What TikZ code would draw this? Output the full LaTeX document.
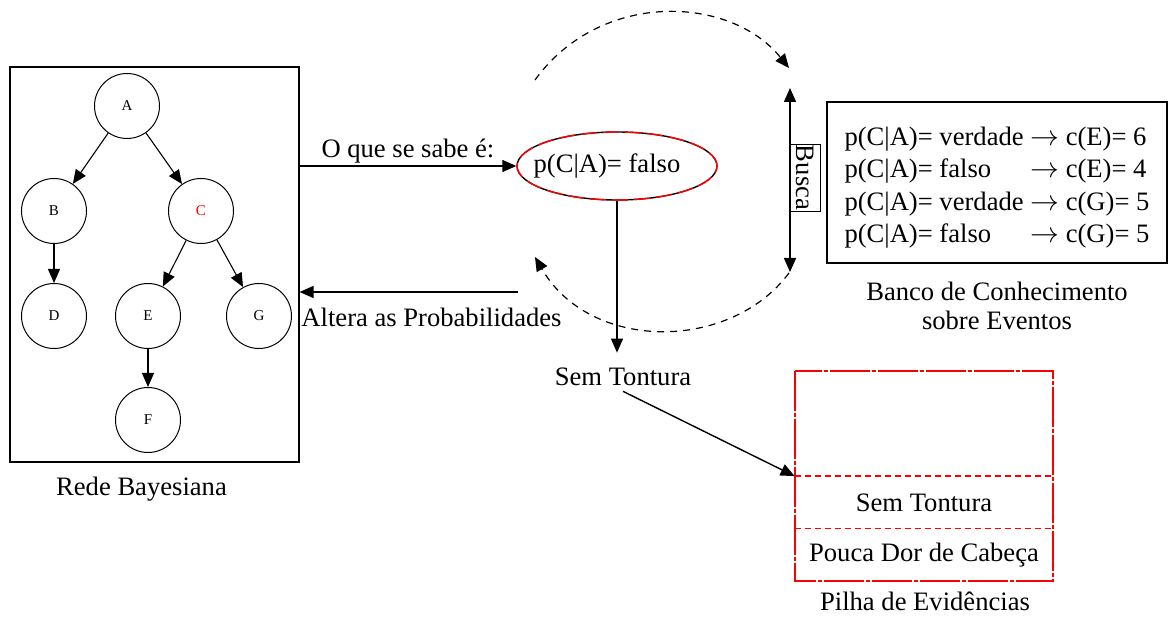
\documentclass[tikz,border=0pt]{standalone}
\usepackage{fontspec}
\setmainfont{Liberation Serif}
\usetikzlibrary{arrows.meta,shapes.geometric}

\begin{document}
\begin{tikzpicture}[x=0.5pt,y=-0.5pt,
  every node/.style={font=\fontsize{13.3}{16.3}\selectfont},
  tip/.style={-{Triangle[length=7pt,width=6pt]}},
  bnode/.style={circle,draw,line width=0.5pt,minimum size=32.5pt,inner sep=0pt,
    font=\fontsize{7.5}{9}\selectfont},
  treeedge/.style={line width=0.55pt,tip},
  flow/.style={line width=0.7pt,tip},
  loop/.style={line width=0.6pt,dash pattern=on 3.5pt off 3pt,tip},
  frame/.style={draw,line width=0.55pt,inner sep=0pt},
  cell/.style={minimum width=129pt,inner sep=0pt},
  caption/.style={anchor=base}
]
\useasboundingbox (0,0) rectangle (1168,619);

% ---- Bayesian network -------------------------------------------------
\node[frame,minimum width=144.5pt,minimum height=197.5pt] (rede) at (154.5,264.5) {};
\node[bnode] (A) at (127,106) {A};
\node[bnode] (B) at (54,211) {B};
\node[bnode,text=red] (C) at (201,211) {C};
\node[bnode] (D) at (54,316) {D};
\node[bnode] (E) at (148,316) {E};
\node[bnode] (G) at (259,316) {G};
\node[bnode] (F) at (148,420) {F};
\draw[treeedge] (A) -- (B);
\draw[treeedge] (A) -- (C);
\draw[treeedge] (B) -- (D);
\draw[treeedge] (C) -- (E);
\draw[treeedge] (C) -- (G);
\draw[treeedge] (E) -- (F);
\node[caption] (redecap) at (141.5,496) {Rede Bayesiana};

% ---- current evidence --------------------------------------------------
\node[ellipse,draw,line width=0.7pt,minimum width=100pt,minimum height=34pt,inner sep=0pt] (q) at (617,166) {};
\draw[red,line width=0.7pt,dash pattern=on 8pt off 3pt] (q.center) ellipse [x radius=50pt,y radius=17pt];
\node (qtext) at (607,166) {p(C|A)= falso};

\draw[flow] (rede.east |- q.west) -- (q.west)
  node[midway,above,inner sep=1pt] (sabe) {O que se sabe é:};

\coordinate (alt) at (518,292);
\draw[flow] (alt) -- (alt -| rede.east);
\node[caption] (altcap) at (431.5,327) {Altera as Probabilidades};

\node[inner sep=2.5pt] (st) at (623,377) {Sem Tontura};
\draw[flow,shorten >=5pt] (q.south) -- (q.south |- st.north);

% ---- search loop -------------------------------------------------------
\coordinate (ta) at (535,80);
\coordinate (tb) at (789,68);
\coordinate (ba) at (789,273);
\coordinate (bb) at (535,257);
\draw[loop] (ta) .. controls (600,-10) and (730,-5) .. (tb);
\draw[loop] (ba) .. controls (730,352) and (590,352) .. (bb);

\coordinate (bt) at (790,88);
\coordinate (bd) at (790,272);
\draw[line width=0.7pt,{Triangle[length=7pt,width=6pt]}-{Triangle[length=7pt,width=6pt]}] (bt) -- (bd);
\node[draw,line width=0.4pt,rotate=-90,anchor=south,minimum width=33pt,minimum height=15pt,inner sep=0.5pt] (busca) at (790,177.5) {Busca};

% ---- knowledge base ----------------------------------------------------
\node[draw,line width=0.8pt,minimum width=170pt,minimum height=80.5pt,inner sep=0pt] (kb) at (997,182.5) {};
\node (kbtext) at (997,187.5) {\begin{tabular}{@{}l@{ }l@{}}
p(C|A)= verdade & $\rightarrow$ c(E)= 6\\
p(C|A)= falso & $\rightarrow$ c(E)= 4\\
p(C|A)= verdade & $\rightarrow$ c(G)= 5\\
p(C|A)= falso & $\rightarrow$ c(G)= 5
\end{tabular}};
\node[align=center,anchor=north,inner sep=0pt,font=\fontsize{13.3}{14.5}\selectfont] (kbcap) at (997,282)
  {Banco de Conhecimento\\sobre Eventos};

% ---- evidence stack ----------------------------------------------------
\node[cell,minimum height=52.75pt] (s0) at (924,423.75) {};
\node[cell,minimum height=26.25pt] (s1) at (924,502.75) {Sem Tontura};
\node[cell,minimum height=26pt] (s2) at (924,555) {Pouca Dor de Cabeça};
\draw[red,line width=1pt,dash pattern=on 20pt off 1pt on 2pt off 1pt] (s0.north west) rectangle (s2.south east);
\draw[red,line width=0.8pt,dash pattern=on 3pt off 2pt] (s1.north west) -- (s1.north east);
\draw[red,line width=0.8pt,dash pattern=on 3pt off 2pt] (s2.north west) -- (s2.north east);
\node[caption] (pilhacap) at (925,611) {Pilha de Evidências};

\draw[flow] (st.south) -- (s1.north west);
\end{tikzpicture}
\end{document}
